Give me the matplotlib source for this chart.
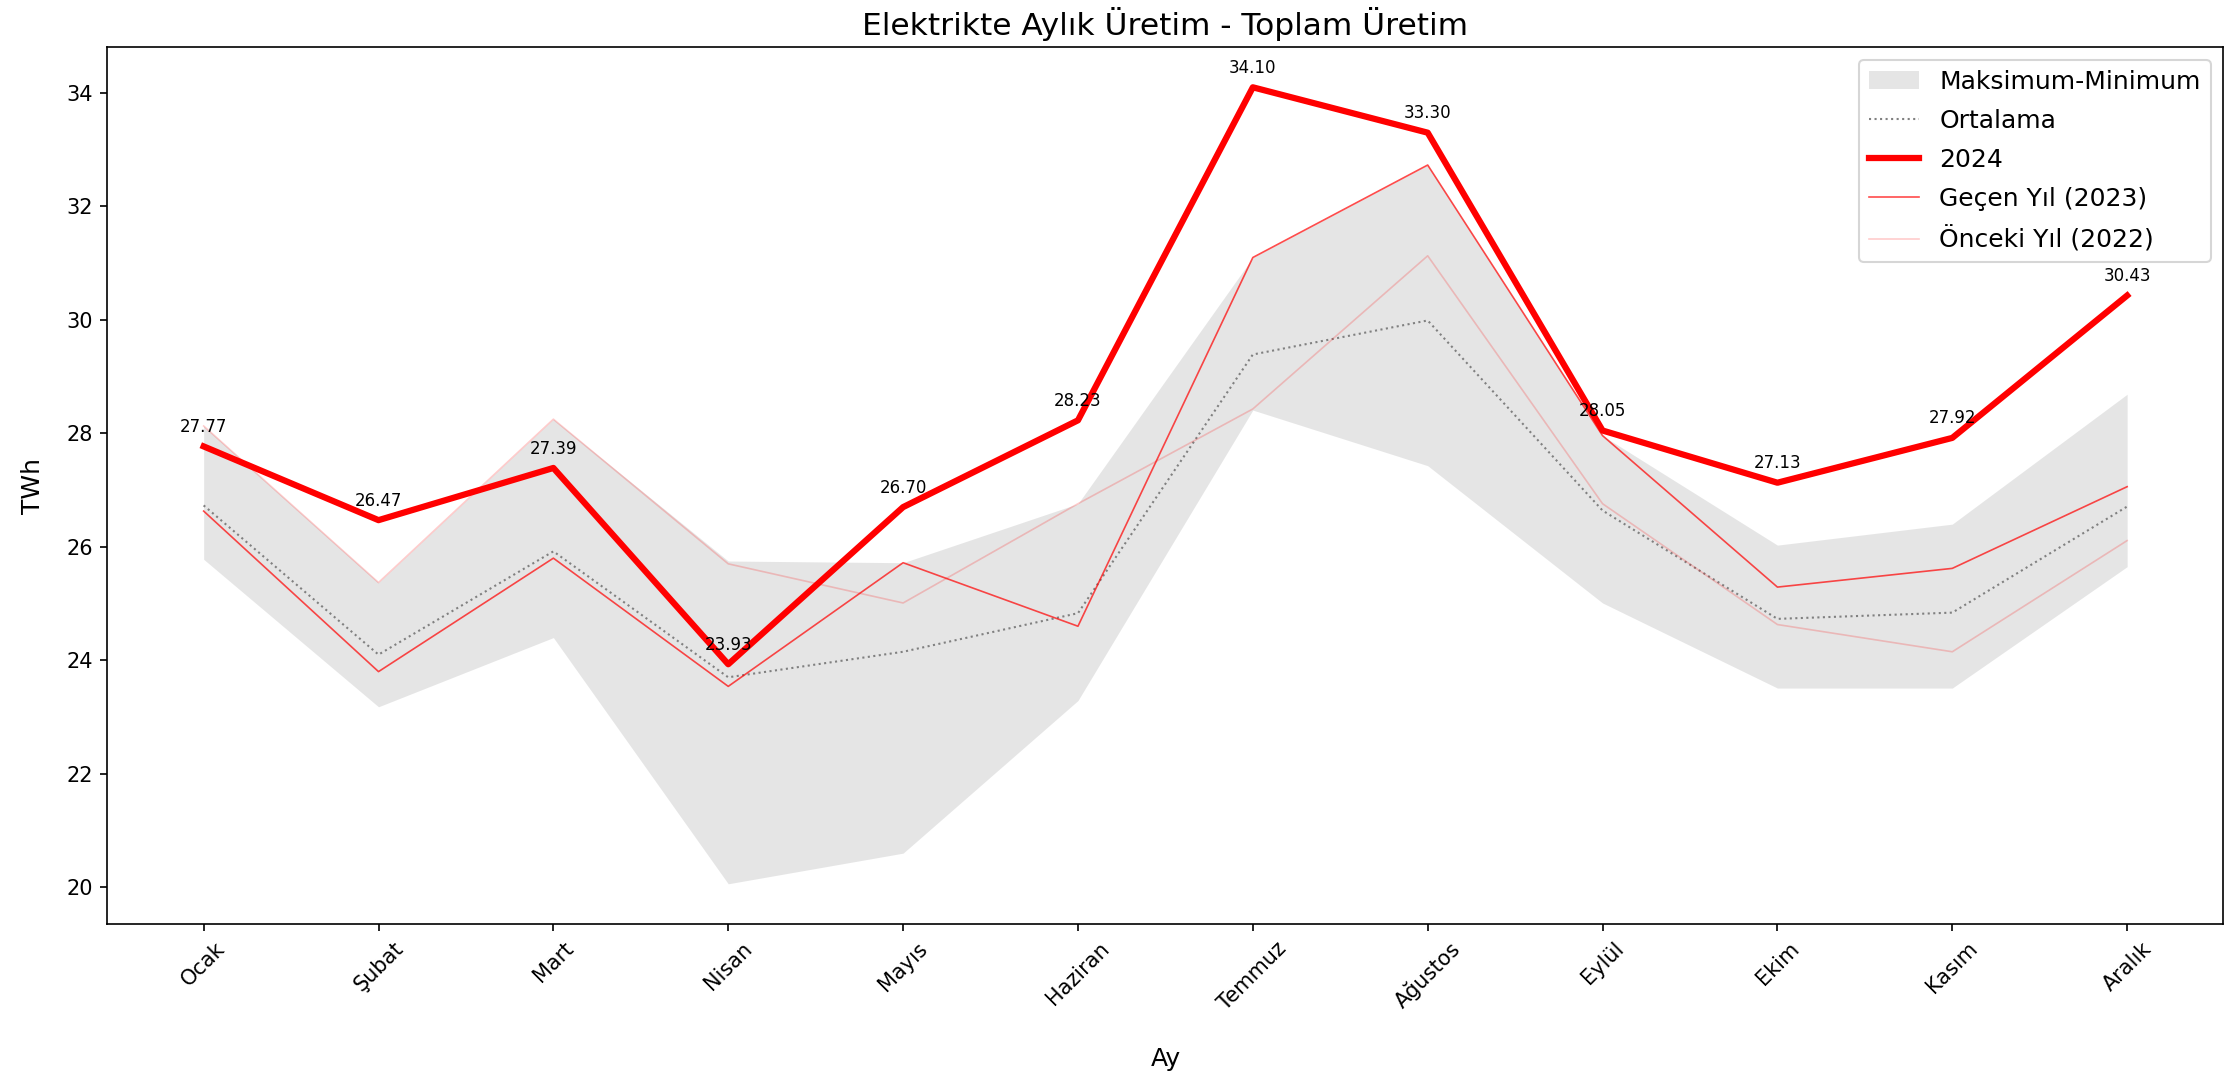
import matplotlib
matplotlib.use("Agg")
import matplotlib.pyplot as plt
import numpy as np

# Month labels (Turkish)
months = ["Ocak", "Şubat", "Mart", "Nisan", "Mayıs", "Haziran",
          "Temmuz", "Ağustos", "Eylül", "Ekim", "Kasım", "Aralık"]

# Values (TWh)
y2024 = [27.77, 26.47, 27.39, 23.93, 26.70, 28.23, 34.10, 33.30, 28.05, 27.13, 27.92, 30.43]
y2023 = [26.63, 23.80, 25.80, 23.54, 25.72, 24.60, 31.10, 32.73, 27.96, 25.29, 25.62, 27.06]
y2022 = [28.13, 25.37, 28.25, 25.70, 25.01, 26.76, 28.43, 31.13, 26.76, 24.63, 24.15, 26.11]
mean_vals = [26.73, 24.10, 25.92, 23.70, 24.15, 24.83, 29.39, 29.99, 26.64, 24.73, 24.84, 26.71]
max_vals = [28.13, 25.37, 28.25, 25.75, 25.72, 26.76, 31.10, 32.73, 27.96, 26.03, 26.40, 28.69]
min_vals = [25.78, 23.18, 24.40, 20.06, 20.60, 23.29, 28.41, 27.43, 25.01, 23.51, 23.51, 25.65]

fig = plt.figure(figsize=(2239 / 150, 1079 / 150), dpi=150)
ax = fig.add_axes([0.048, 0.144, 0.945, 0.812])

x = np.arange(len(months))
ax.fill_between(x, min_vals, max_vals, color="gray", alpha=0.2, linewidth=0,
                label="Maksimum-Minimum")
ax.plot(x, mean_vals, color="gray", linestyle=":", linewidth=1, label="Ortalama")
ax.plot(x, y2024, color="red", linewidth=3, label="2024")
ax.plot(x, y2023, color="red", linewidth=0.8, alpha=0.7, label="Geçen Yıl (2023)")
ax.plot(x, y2022, color="red", linewidth=0.8, alpha=0.2, label="Önceki Yıl (2022)")

for xi, v in zip(x, y2024):
    ax.annotate(f"{v:.2f}", (xi, v), xytext=(0, 5), textcoords="offset points",
                ha="center", va="bottom", fontsize=8)

ax.set_xticks(x)
ax.set_xticklabels(months, rotation=45)
ax.set_title("Elektrikte Aylık Üretim - Toplam Üretim", fontsize=15)
ax.set_xlabel("Ay", fontsize=12, labelpad=16)
ax.set_ylabel("TWh", fontsize=12, labelpad=10)
ax.legend(loc="upper right", fontsize=12, labelspacing=0.6)

fig.savefig("out.png", dpi=150)
